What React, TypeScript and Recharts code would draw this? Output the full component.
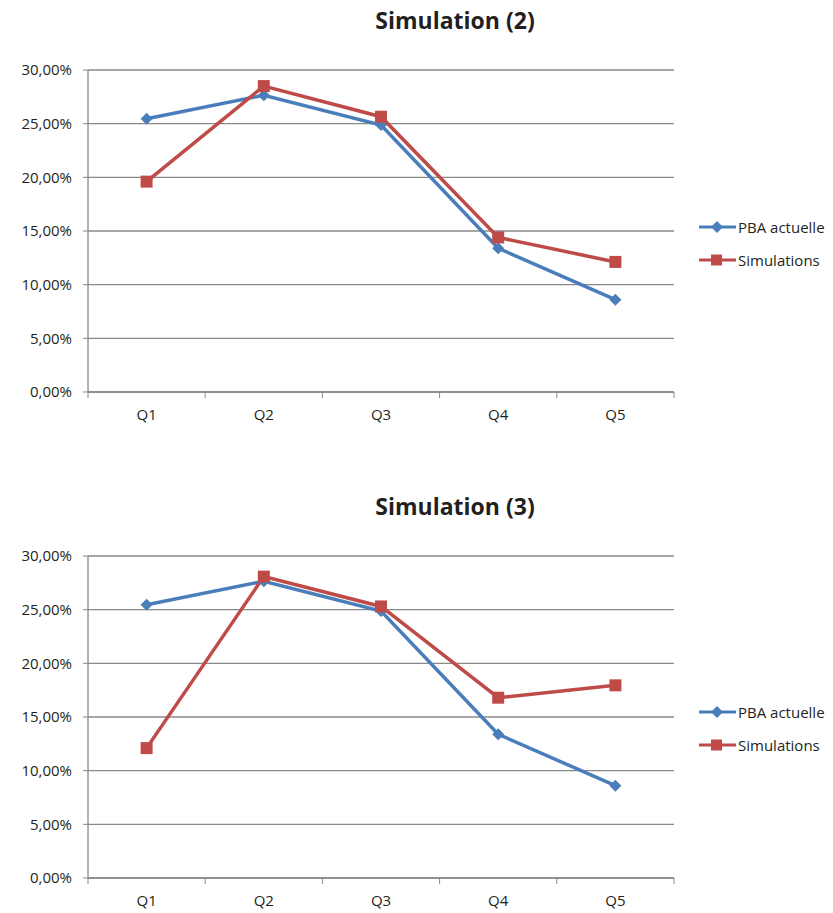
import { CartesianGrid, Legend, Line, LineChart, XAxis, YAxis } from 'recharts'

const quintiles = ['Q1', 'Q2', 'Q3', 'Q4', 'Q5']
const pbaActuelle = [25.46, 27.65, 24.88, 13.39, 8.6]
const simulation2 = [19.6, 28.5, 25.65, 14.4, 12.12]
const simulation3 = [12.1, 28.08, 25.3, 16.8, 17.95]
const yTicks = [0, 5, 10, 15, 20, 25, 30]

const BLUE = '#4a7ebb'
const RED = '#be4b48'
const GRID = '#898989'
const FONT = '"Open Sans", "Noto Sans", sans-serif'

const WIDTH = 833
const HEIGHT = 485
const MARGIN = { top: 70, right: 159, bottom: 63, left: 8 }
const Y_WIDTH = 80
const X_HEIGHT = 30
const PLOT_BOTTOM = HEIGHT - MARGIN.bottom - X_HEIGHT
const BAND = (WIDTH - MARGIN.left - Y_WIDTH - MARGIN.right) / quintiles.length

const formatPct = (v: number) => `${v.toFixed(2).replace('.', ',')}%`

function Diamond({ cx, cy }: { cx?: number; cy?: number }) {
  if (cx == null || cy == null) return null
  return <polygon points={`${cx},${cy - 6} ${cx + 6},${cy} ${cx},${cy + 6} ${cx - 6},${cy}`} fill={BLUE} />
}

function Square({ cx, cy }: { cx?: number; cy?: number }) {
  if (cx == null || cy == null) return null
  return <rect x={cx - 6} y={cy - 6} width={12} height={12} fill={RED} />
}

function QuintileTick({ x, payload, index }: any) {
  const last = index === quintiles.length - 1
  return (
    <g>
      <line x1={x - BAND / 2} x2={x - BAND / 2} y1={PLOT_BOTTOM} y2={PLOT_BOTTOM + 6} stroke={GRID} />
      {last && <line x1={x + BAND / 2} x2={x + BAND / 2} y1={PLOT_BOTTOM} y2={PLOT_BOTTOM + 6} stroke={GRID} />}
      <text x={x} y={PLOT_BOTTOM + 28} textAnchor="middle" fontSize={15} fill="#231f20" fontFamily={FONT}>
        {payload.value}
      </text>
    </g>
  )
}

function LegendBox() {
  const items = [
    { name: 'PBA actuelle', color: BLUE, square: false },
    { name: 'Simulations', color: RED, square: true },
  ]
  return (
    <div style={{ fontFamily: FONT, fontSize: 15, color: '#231f20' }}>
      {items.map((item) => (
        <div key={item.name} style={{ display: 'flex', alignItems: 'center', height: 33 }}>
          <svg width={39} height={14} style={{ display: 'block' }}>
            <line x1={0} x2={37} y1={7} y2={7} stroke={item.color} strokeWidth={3} />
            {item.square
              ? <rect x={12} y={1.5} width={11} height={11} fill={item.color} />
              : <polygon points="18,1 24,7 18,13 12,7" fill={item.color} />}
          </svg>
          <span>{item.name}</span>
        </div>
      ))}
    </div>
  )
}

function SimulationChart({ title, simulations }: { title: string; simulations: number[] }) {
  const data = quintiles.map((q, i) => ({ q, pba: pbaActuelle[i], sim: simulations[i] }))
  return (
    <LineChart width={WIDTH} height={HEIGHT} data={data} margin={MARGIN}>
      <CartesianGrid vertical={false} stroke={GRID} strokeWidth={1.3} />
      <XAxis
        dataKey="q"
        height={X_HEIGHT}
        padding={{ left: BAND / 2, right: BAND / 2 }}
        tickLine={false}
        axisLine={{ stroke: GRID, strokeWidth: 1.3 }}
        tick={<QuintileTick />}
        interval={0}
      />
      <YAxis
        width={Y_WIDTH}
        domain={[0, 30]}
        ticks={yTicks}
        tickFormatter={formatPct}
        tickSize={5}
        tickMargin={11}
        tickLine={{ stroke: GRID }}
        axisLine={{ stroke: GRID, strokeWidth: 1.3 }}
        tick={{ fontSize: 15, fill: '#231f20', fontFamily: FONT }}
      />
      <Line dataKey="pba" name="PBA actuelle" stroke={BLUE} strokeWidth={3.5} dot={<Diamond />} activeDot={false} isAnimationActive={false} />
      <Line dataKey="sim" name="Simulations" stroke={RED} strokeWidth={3.5} dot={<Square />} activeDot={false} isAnimationActive={false} />
      <Legend layout="horizontal" verticalAlign="middle" content={<LegendBox />} wrapperStyle={{ left: 699, top: 210, width: 134 }} />
      <text x={455} y={29} textAnchor="middle" fontSize={23} fontWeight={700} fill="#231f20" fontFamily={FONT}>
        {title}
      </text>
    </LineChart>
  )
}

export default function App() {
  return (
    <div style={{ position: 'absolute', left: 0, top: 0, width: WIDTH, height: 913, background: '#fff' }}>
      <SimulationChart title="Simulation (2)" simulations={simulation2} />
      <div style={{ height: 0.5 }} />
      <SimulationChart title="Simulation (3)" simulations={simulation3} />
    </div>
  )
}
